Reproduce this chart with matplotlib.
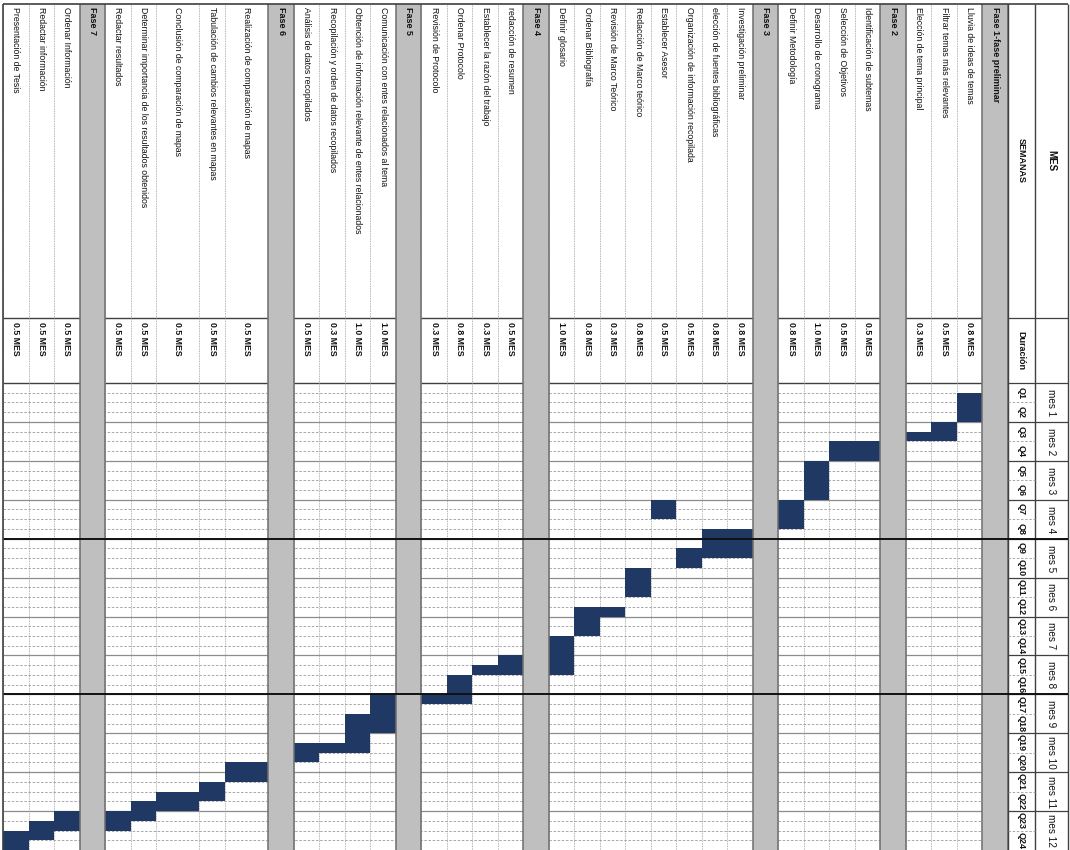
"""
Cronograma de tesis (Gantt rotado 90 grados, como la hoja original)
"""
import matplotlib
matplotlib.use("Agg")
import matplotlib.pyplot as plt

plt.rcParams['font.family'] = ['Liberation Sans', 'DejaVu Sans']

# ---- datos ----
phases = ["Fase 1-fase preliminar", "Fase 2", "Fase 3", "Fase 4",
          "Fase 5", "Fase 6", "Fase 7"]

task_names = [
    "Lluvia de ideas de temas", "Filtrar temas más relevantes", "Elección de tema principal",
    "Identificación de subtemas", "Selección de Objetivos", "Desarrollo de cronograma",
    "Definir Metodología",
    "Investigación preliminar", "elección de fuentes bibliográficas",
    "Organización de información recopilada", "Establecer Asesor",
    "Redacción de Marco teórico", "Revisión de Marco Teórico", "Ordenar Bibliografía",
    "Definir glosario",
    "redacción de resumen", "Establecer la razón del trabajo", "Ordenar Protocolo",
    "Revisión de Protocolo",
    "Comunicación con entes relacionados al tema",
    "Obtención de información relevante de entes relacionados",
    "Recopilación y orden de datos recopilados", "Análisis de datos recopilados",
    "Realización de comparación de mapas", "Tabulación de cambios relevantes en mapas",
    "Conclusión de comparación de mapas",
    "Determinar importancia de los resultados obtenidos", "Redactar resultados",
    "Ordenar Información", "Redactar información", "Presentación de Tesis",
]
task_phase = [0, 0, 0,
              1, 1, 1, 1,
              2, 2, 2, 2, 2, 2, 2, 2,
              3, 3, 3, 3,
              4, 4, 4, 4,
              5, 5, 5, 5, 5,
              6, 6, 6]
durations = [0.8, 0.5, 0.3,
             0.5, 0.5, 1.0, 0.8,
             0.8, 0.8, 0.5, 0.5, 0.8, 0.3, 0.8, 1.0,
             0.5, 0.3, 0.8, 0.3,
             1.0, 1.0, 0.3, 0.5,
             0.5, 0.5, 0.5, 0.5, 0.5,
             0.5, 0.5, 0.5]
# semanas (4 por mes, 48 en total)
start_week = [1, 4, 5,
              6, 6, 8, 12,
              15, 15, 17, 12, 19, 23, 23, 26,
              28, 29, 30, 32,
              32, 34, 37, 37,
              39, 41, 42, 43, 44,
              44, 45, 46]
end_week = [4, 6, 6,
            8, 8, 12, 15,
            18, 18, 19, 14, 22, 24, 26, 30,
            30, 30, 33, 33,
            36, 38, 38, 39,
            41, 43, 44, 45, 46,
            46, 47, 48]

months = [f"mes {i}" for i in range(1, 13)]
quincenas = [f"Q{i}" for i in range(1, 25)]

# ---- layout ----
tall_rows = {"Realización de comparación de mapas", "Conclusión de comparación de mapas"}
TALL = 1.7
NAME_START = -39.0   # inicio columna de actividades (en semanas)
DUR_START = -6.7     # inicio columna de duración
N_WEEKS = 48
BAR_COLOR = '#1F3864'
BAND_COLOR = '#BFBFBF'
GRID = '#9a9a9a'
TXT = '#111111'

# filas: fases y tareas, de derecha a izquierda
rows = []
for p, ph in enumerate(phases):
    rows.append(('phase', ph, None))
    for i, name in enumerate(task_names):
        if task_phase[i] == p:
            rows.append(('task', name, i))

total = sum(TALL if r[1] in tall_rows else 1.0 for r in rows)
top = total
positions = []
for r in rows:
    h = TALL if r[1] in tall_rows else 1.0
    positions.append((top - h, h))
    top -= h

SEM_X0, SEM_X1 = total, total + 1.06
MES_X1 = SEM_X1 + 1.29

fig = plt.figure(figsize=(10.7, 8.5), dpi=100)
ax = fig.add_axes([0, 0, 1, 1])
ax.set_xlim(-0.12, 41.84)
ax.set_ylim(N_WEEKS, -39.37)
ax.axis('off')

# grid semanas / meses (debajo de las bandas grises)
for w in range(1, N_WEEKS):
    if w % 4 == 0:
        ax.hlines(w, 0, total, colors='#8c8c8c', lw=0.9, zorder=1)
    else:
        ax.hlines(w, 0, total, colors=GRID, lw=0.6, linestyles=(0, (3, 2)), zorder=1)
ax.hlines([0, DUR_START], 0, total, colors='#404040', lw=1.0, zorder=1)

# separadores de filas
bounds = sorted(set([x0 for x0, h in positions] + [x0 + h for x0, h in positions]))
ax.vlines(bounds, NAME_START, N_WEEKS, colors=GRID, lw=0.6,
          linestyles=(0, (1, 1)), zorder=1)

for (kind, label, idx), (x0, h) in zip(rows, positions):
    xc = x0 + h / 2
    if kind == 'phase':
        ax.bar(xc, N_WEEKS - NAME_START, bottom=NAME_START, width=h,
               color=BAND_COLOR, zorder=3)
        ax.vlines([x0, x0 + h], NAME_START, N_WEEKS, colors='#6e6e6e', lw=1.1, zorder=4)
        ax.text(xc, NAME_START + 0.4, label, rotation=-90, ha='center', va='top',
                fontsize=6.5, fontweight='bold', color=TXT, zorder=5)
    else:
        ax.bar(xc, end_week[idx] - start_week[idx], bottom=start_week[idx], width=h,
               color=BAR_COLOR, zorder=2)
        ax.text(xc, NAME_START + 0.4, label, rotation=-90, ha='center', va='top',
                fontsize=6.3, color=TXT, zorder=5)
        ax.text(xc, DUR_START + 0.45, f"{durations[idx]:.1f} MES", rotation=-90,
                ha='center', va='top', fontsize=6.3, fontweight='bold', color=TXT, zorder=5)

# lineas gruesas (cambio de cuatrimestre)
ax.hlines([16, 32], 0, MES_X1, colors='#111111', lw=1.4, zorder=6)

# encabezado
ax.vlines([SEM_X0, SEM_X1, MES_X1], NAME_START, N_WEEKS, colors='#404040', lw=1.0, zorder=4)
for w in range(0, N_WEEKS, 4):
    ax.hlines(w, SEM_X0, MES_X1, colors='#404040', lw=0.9, zorder=4)
for w in range(2, N_WEEKS, 4):
    ax.hlines(w, SEM_X0, SEM_X1, colors=GRID, lw=0.6, linestyles=(0, (3, 2)), zorder=4)
ax.hlines(DUR_START, SEM_X0, MES_X1, colors='#404040', lw=0.9, zorder=4)

sem_c = (SEM_X0 + SEM_X1) / 2
mes_c = (SEM_X1 + MES_X1) / 2
ax.text(mes_c, (NAME_START + DUR_START) / 2, "MES", rotation=-90, ha='center',
        va='center', fontsize=7, fontweight='bold', color=TXT)
ax.text(sem_c, (NAME_START + DUR_START) / 2, "SEMANAS", rotation=-90, ha='center',
        va='center', fontsize=6.5, fontweight='bold', color=TXT)
ax.text(sem_c, DUR_START / 2, "Duración", rotation=-90, ha='center',
        va='center', fontsize=6.5, fontweight='bold', color=TXT)
for k, q in enumerate(quincenas):
    ax.text(sem_c, 2 * k + 1, q, rotation=-90, ha='center', va='center',
            fontsize=6.5, fontweight='bold', color=TXT)
for k, m in enumerate(months):
    ax.text(mes_c, 4 * k + 2, m, rotation=-90, ha='center', va='center',
            fontsize=7.2, color=TXT)

# borde exterior
ax.vlines(0, NAME_START, N_WEEKS, colors='#404040', lw=1.2, zorder=6)
ax.hlines(NAME_START, 0, MES_X1, colors='#404040', lw=1.2, zorder=6)

fig.savefig("out.png", dpi=100)
